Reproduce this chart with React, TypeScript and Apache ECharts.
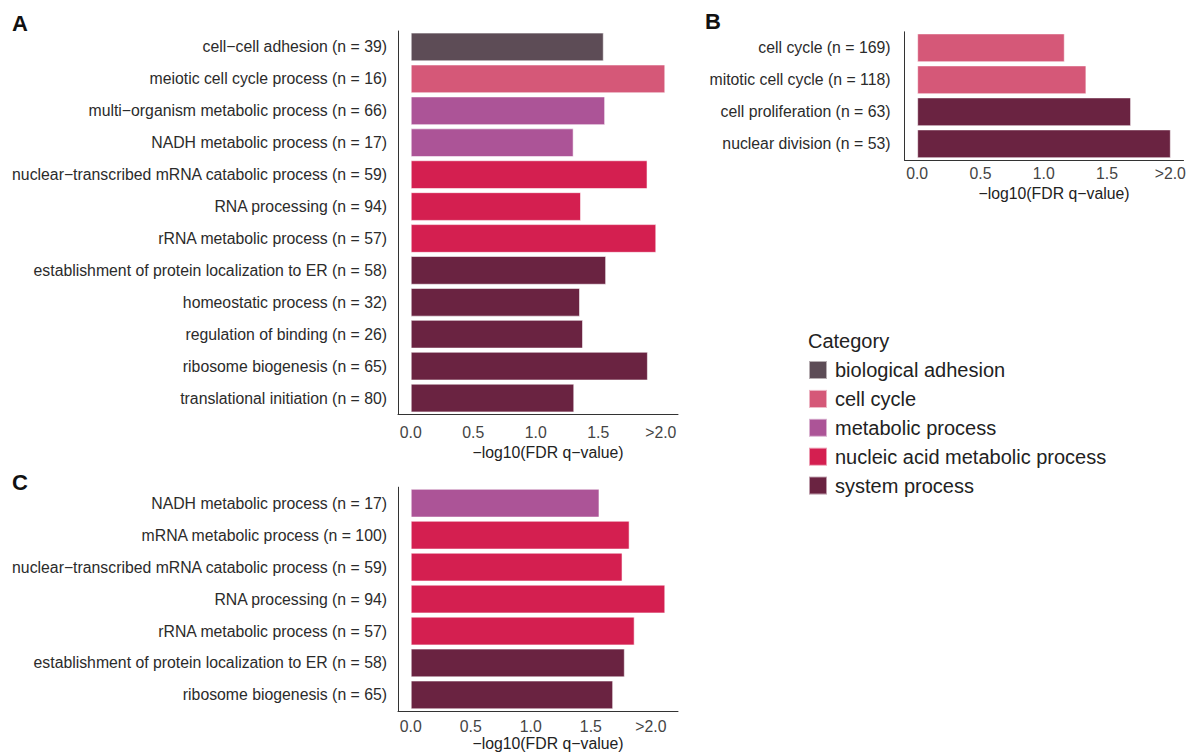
import React, { useEffect, useRef } from "react";
import * as echarts from "echarts";

// GO term enrichment: -log10(FDR q-value) per term, coloured by category
const CATEGORIES = [
  "biological adhesion",
  "cell cycle",
  "metabolic process",
  "nucleic acid metabolic process",
  "system process",
];
const CATEGORY_COLORS = ["#5D4C56", "#D55878", "#AC5497", "#D41F50", "#6A2341"];

const termsA = [
  "cell\u2212cell adhesion (n = 39)",
  "meiotic cell cycle process (n = 16)",
  "multi\u2212organism metabolic process (n = 66)",
  "NADH metabolic process (n = 17)",
  "nuclear\u2212transcribed mRNA catabolic process (n = 59)",
  "RNA processing (n = 94)",
  "rRNA metabolic process (n = 57)",
  "establishment of protein localization to ER (n = 58)",
  "homeostatic process (n = 32)",
  "regulation of binding (n = 26)",
  "ribosome biogenesis (n = 65)",
  "translational initiation (n = 80)",
];
const valuesA = [1.544, 2.036, 1.555, 1.303, 1.894, 1.362, 1.964, 1.563, 1.354, 1.378, 1.897, 1.308];
const catsA = [0, 1, 2, 2, 3, 3, 3, 4, 4, 4, 4, 4];

const termsB = [
  "cell cycle (n = 169)",
  "mitotic cell cycle (n = 118)",
  "cell proliferation (n = 63)",
  "nuclear division (n = 53)",
];
const valuesB = [1.166, 1.337, 1.69, 2.004];
const catsB = [1, 1, 4, 4];

const termsC = [
  "NADH metabolic process (n = 17)",
  "mRNA metabolic process (n = 100)",
  "nuclear\u2212transcribed mRNA catabolic process (n = 59)",
  "RNA processing (n = 94)",
  "rRNA metabolic process (n = 57)",
  "establishment of protein localization to ER (n = 58)",
  "ribosome biogenesis (n = 65)",
];
const valuesC = [1.572, 1.823, 1.764, 2.12, 1.865, 1.783, 1.686];
const catsC = [2, 3, 3, 3, 3, 4, 4];

const xTicks = [0, 0.5, 1, 1.5, 2];
const X_TITLE = "\u2212log10(FDR q\u2212value)";

const FONT = "Liberation Sans, Arial, Helvetica, sans-serif";
const TEXT_SIZE = 15.8;

const panels = [
  { terms: termsA, values: valuesA, cats: catsA, grid: { left: 398, top: 31, width: 280, height: 383 }, labelMargin: 10, nameGap: 27, catMargin: 11 },
  { terms: termsB, values: valuesB, cats: catsB, grid: { left: 904.5, top: 31.8, width: 279, height: 128 }, labelMargin: 6, nameGap: 25.5, catMargin: 14 },
  { terms: termsC, values: valuesC, cats: catsC, grid: { left: 398, top: 487.2, width: 280, height: 223.7 }, labelMargin: 8, nameGap: 25, catMargin: 11 },
];

export default function App() {
  const ref = useRef<HTMLDivElement>(null);

  useEffect(() => {
    if (!ref.current) return;
    const chart = echarts.init(ref.current, null, { renderer: "svg" });

    const grids = panels.map((p) => ({ ...p.grid, containLabel: false }));

    const xAxes = panels.map((p, i) => {
      const vmax = Math.max(...p.values);
      return {
        type: "value",
        gridIndex: i,
        min: -0.05 * vmax,
        max: 1.05 * vmax,
        splitLine: { show: false },
        axisTick: { show: false },
        axisLine: { show: true, onZero: false, lineStyle: { color: "#333", width: 1 } },
        axisLabel: {
          customValues: xTicks,
          margin: p.labelMargin,
          fontSize: TEXT_SIZE,
          fontFamily: FONT,
          color: "#444",
          formatter: (v: number) => (v === 2 ? ">2.0" : v.toFixed(1)),
        },
        name: X_TITLE,
        nameLocation: "middle",
        nameGap: p.nameGap,
        nameTextStyle: { fontSize: TEXT_SIZE, fontFamily: FONT, color: "#222", padding: [0, 0, 0, 20] },
      };
    });

    const yAxes = panels.map((p, i) => ({
      type: "category",
      gridIndex: i,
      data: p.terms,
      inverse: true,
      boundaryGap: true,
      axisTick: { show: false },
      splitLine: { show: false },
      axisLine: { show: true, onZero: false, lineStyle: { color: "#333", width: 1 } },
      axisLabel: { margin: p.catMargin, fontSize: TEXT_SIZE, fontFamily: FONT, color: "#2b2b2b" },
    }));

    const series: any[] = [];
    panels.forEach((p, i) => {
      CATEGORIES.forEach((c, ci) => {
        if (!p.cats.includes(ci)) return;
        series.push({
          type: "bar",
          name: c,
          xAxisIndex: i,
          yAxisIndex: i,
          stack: "panel" + i,
          barCategoryGap: "10%",
          itemStyle: {
            color: CATEGORY_COLORS[ci],
            borderColor: "rgba(255,255,255,0.55)",
            borderWidth: 1,
          },
          emphasis: { disabled: true },
          data: p.values.map((v, k) => (p.cats[k] === ci ? v : "-")),
        });
      });
    });

    const letter = (t: string, x: number, y: number) => ({
      type: "text",
      x,
      y,
      style: {
        text: t,
        fontSize: 22,
        fontWeight: "bold",
        fontFamily: FONT,
        fill: "#111",
        align: "center",
        verticalAlign: "middle",
      },
    });

    chart.setOption({
      animation: false,
      backgroundColor: "#fff",
      grid: grids,
      xAxis: xAxes,
      yAxis: yAxes,
      series,
      legend: {
        data: CATEGORIES,
        orient: "vertical",
        left: 808,
        top: 360,
        padding: 0,
        itemWidth: 18,
        itemHeight: 18,
        itemGap: 8.9,
        icon: "rect",
        selectedMode: false,
        textStyle: { fontSize: 20, fontFamily: FONT, color: "#222", lineHeight: 18, padding: [0, 0, 0, 3] },
      },
      graphic: [
        letter("A", 20, 23),
        letter("B", 713, 21),
        letter("C", 20, 482.5),
        {
          type: "text",
          x: 808,
          y: 341,
          style: {
            text: "Category",
            fontSize: 20,
            fontFamily: FONT,
            fill: "#222",
            align: "left",
            verticalAlign: "middle",
          },
        },
      ],
    });

    return () => chart.dispose();
  }, []);

  return (
    <div
      ref={ref}
      style={{ position: "fixed", left: 0, top: 0, width: 1192, height: 754 }}
    />
  );
}
